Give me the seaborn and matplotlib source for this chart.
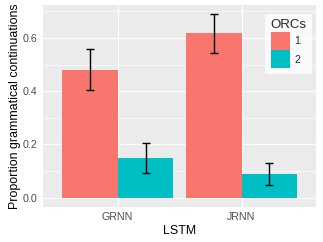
import matplotlib
matplotlib.use("Agg")
import matplotlib.pyplot as plt
import seaborn as sns
import pandas as pd
import numpy as np

models = ["GRNN", "JRNN"]
orcs = ["1", "2"]
means_1 = [0.481, 0.617]
means_2 = [0.149, 0.090]
lo_1 = [0.404, 0.545]
hi_1 = [0.558, 0.690]
lo_2 = [0.094, 0.048]
hi_2 = [0.204, 0.132]

df = pd.DataFrame({
    "LSTM": models * 2,
    "ORCs": ["1"] * 2 + ["2"] * 2,
    "value": means_1 + means_2,
    "lo": lo_1 + lo_2,
    "hi": hi_1 + hi_2,
})

sns.set_theme(style="darkgrid")
plt.rcParams['font.family'] = ['Liberation Sans', 'DejaVu Sans']

fig = plt.figure(figsize=(3.23, 2.42), dpi=100)
ax = fig.add_axes([0.134, 0.145, 0.844, 0.835])
ax.set_facecolor("#EBEBEB")

palette = {"1": "#F8766D", "2": "#00BFC4"}
sns.barplot(data=df, x="LSTM", y="value", hue="ORCs", order=models,
            hue_order=orcs, palette=palette, width=0.9, errorbar=None,
            saturation=1, ax=ax, linewidth=0, zorder=3)

# error bars placed at the bar centres
for cont, o in zip(ax.containers, orcs):
    sub = df[df["ORCs"] == o].set_index("LSTM").loc[models]
    xs = [p.get_x() + p.get_width() / 2 for p in cont.patches]
    ys = sub["value"].values
    err = np.vstack([ys - sub["lo"].values, sub["hi"].values - ys])
    ax.errorbar(xs, ys, yerr=err, fmt="none", ecolor="black", elinewidth=1.0,
                capsize=2.6, capthick=1.0, zorder=4)

ax.set_xlim(-0.6, 1.6)
ax.set_ylim(-0.0345, 0.7245)
ax.set_yticks([0.0, 0.2, 0.4, 0.6])
ax.set_yticklabels(["0.0", "0.2", "0.4", "0.6"])
ax.set_yticks([0.1, 0.3, 0.5, 0.7], minor=True)
ax.grid(True, which="major", color="white", linewidth=0.9, zorder=0)
ax.grid(True, which="minor", axis="y", color="white", linewidth=0.45, zorder=0)
ax.set_axisbelow(True)
for s in ax.spines.values():
    s.set_visible(False)
ax.tick_params(axis="both", which="major", length=2.5, width=0.6, color="#333333",
               labelsize=7.7, labelcolor="#4D4D4D", pad=1.5, direction="out")
ax.tick_params(axis="both", which="minor", length=0)
ax.set_xlabel("LSTM", fontsize=8.9, color="black", labelpad=1.5)
ax.set_ylabel("Proportion grammatical continuations", fontsize=8.9, color="black", labelpad=1.5)

leg = ax.legend(title="ORCs", loc="upper right", bbox_to_anchor=(0.985, 0.955),
                frameon=True, fontsize=7.5, title_fontsize=9.5,
                handlelength=1.85, handleheight=2.29, handletextpad=0.4,
                labelspacing=0.05, borderpad=0.5, borderaxespad=0,
                fancybox=False)
leg.get_frame().set_facecolor("white")
leg.get_frame().set_edgecolor("white")
leg.get_frame().set_linewidth(0)
leg._legend_box.align = "left"

fig.savefig("out.png", dpi=100, facecolor="white")
